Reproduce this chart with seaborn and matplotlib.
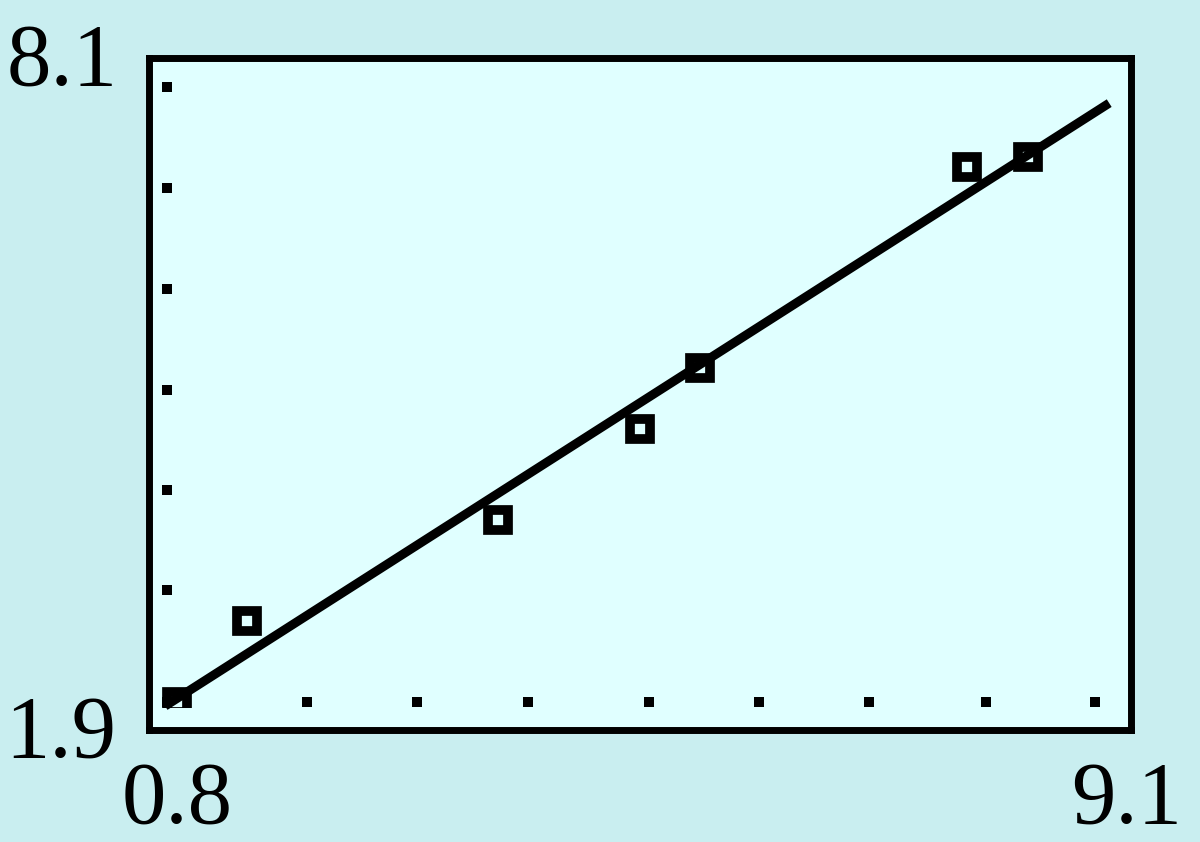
import numpy as np
import pandas as pd
import matplotlib
matplotlib.use("Agg")
import matplotlib.pyplot as plt
from matplotlib.patches import Rectangle
import seaborn as sns

# calculator window
x_min, x_max = 0.8, 9.1
y_min, y_max = 1.9, 8.1

# data points (open squares)
x_pts = [1.04, 1.63, 3.75, 4.95, 5.46, 7.72, 8.23]
y_pts = [2.16, 2.91, 3.84, 4.68, 5.24, 7.09, 7.19]

# extent of the regression line on the screen
line_x = [0.94, 8.92]

# tick dots along left column and bottom row
left_dot_x = 0.96
left_dot_y = [7.83, 6.90, 5.97, 5.04, 4.11, 3.19, 2.16]
bottom_dot_y = 2.16
bottom_dot_x = [2.14, 3.07, 4.01, 5.03, 5.96, 6.89, 7.88, 8.80]

# lowest visible row of the screen
screen_bottom = 2.11

outer_bg = "#C9EEF0"
inner_bg = "#E0FFFF"

sns.set_theme(style="white")
plt.rcParams['font.family'] = ['Liberation Serif', 'DejaVu Serif']
plt.rcParams['text.color'] = 'black'

fig = plt.figure(figsize=(12, 8.42), dpi=100, facecolor=outer_bg)
ax = fig.add_axes([148.5 / 1200, 1 - 730 / 842, 982 / 1200, 672 / 842])
ax.set_facecolor(inner_bg)

# grid dots
dots = pd.DataFrame({
    "x": [left_dot_x] * len(left_dot_y) + bottom_dot_x,
    "y": left_dot_y + [bottom_dot_y] * len(bottom_dot_x),
})
ax.plot(dots["x"], dots["y"], ls="none", marker="s", ms=7, mew=0, color="black")

# regression line
slope, intercept = np.polyfit(x_pts, y_pts, 1)
lx = np.array(line_x)
ax.plot(lx, intercept + slope * lx, color="black", lw=6.5, solid_capstyle="butt")

# data points
df = pd.DataFrame({"x": x_pts, "y": y_pts})
pts = ax.plot(df["x"], df["y"], ls="none", marker="s", ms=14.5, mew=7,
              mfc="none", mec="black")[0]
pts.set_clip_path(Rectangle((x_min, screen_bottom), x_max - x_min, y_max - screen_bottom,
                            transform=ax.transData))

ax.set_xlim(x_min, x_max)
ax.set_ylim(y_min, y_max)
ax.set_xticks([])
ax.set_yticks([])
for sp in ax.spines.values():
    sp.set_visible(True)
    sp.set_color("black")
    sp.set_linewidth(5)

fs = 64
fig.text(118 / 1200, 1 - 85 / 842, f"{y_max}", ha="right", va="baseline", fontsize=fs, color="black")
fig.text(116 / 1200, 1 - 757 / 842, f"{y_min}", ha="right", va="baseline", fontsize=fs, color="black")
fig.text(177 / 1200, 1 - 823 / 842, f"{x_min}", ha="center", va="baseline", fontsize=fs, color="black")
fig.text(1127 / 1200, 1 - 823 / 842, f"{x_max}", ha="center", va="baseline", fontsize=fs, color="black")

fig.savefig("out.png", dpi=100, facecolor=outer_bg)
